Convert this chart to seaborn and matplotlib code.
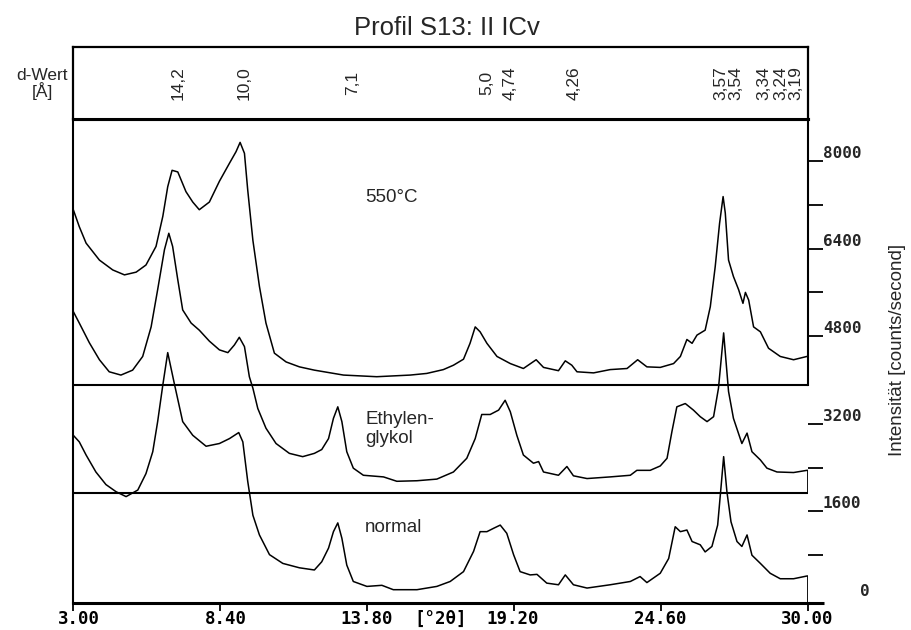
import matplotlib
matplotlib.use("Agg")
import matplotlib.pyplot as plt
import seaborn as sns

# ---------------- data ----------------
two_theta_550 = [3.00, 3.22, 3.47, 3.96, 4.45, 4.88, 5.31, 5.67, 6.04, 6.29, 6.47, 6.63, 6.84, 7.14,
                 7.39, 7.63, 8.00, 8.37, 8.74, 8.98, 9.13, 9.29, 9.41, 9.60, 9.84, 10.08, 10.39, 10.82,
                 11.31, 11.86, 12.93, 14.15, 15.38, 15.99, 16.60, 16.97, 17.34, 17.58, 17.77, 17.95,
                 18.20, 18.57, 19.06, 19.54, 20.01, 20.28, 20.83, 21.08, 21.32, 21.51, 22.12, 22.73,
                 23.35, 23.74, 24.08, 24.57, 25.06, 25.31, 25.55, 25.74, 25.92, 26.22, 26.41, 26.59,
                 26.75, 26.88, 26.96, 27.08, 27.26, 27.45, 27.61, 27.70, 27.82, 28.00, 28.25, 28.55,
                 28.98, 29.47, 29.96, 30.00]
counts_550 = [7110, 6800, 6500, 6190, 6010, 5920, 5970, 6100, 6440, 6990, 7530, 7830, 7800, 7440,
              7250, 7110, 7250, 7630, 7960, 8170, 8340, 8140, 7470, 6550, 5710, 5040, 4490, 4330,
              4240, 4180, 4090, 4060, 4090, 4120, 4190, 4270, 4380, 4670, 4970, 4880,
              4670, 4430, 4300, 4210, 4370, 4230, 4170, 4350, 4270, 4150, 4130, 4190,
              4210, 4370, 4240, 4230, 4300, 4430, 4740, 4670, 4820, 4910, 5340, 6070,
              6860, 7350, 7050, 6190, 5890, 5650, 5400, 5600, 5460, 4970, 4880, 4580,
              4430, 4370, 4430, 4430]

two_theta_eg = [3.00, 3.22, 3.59, 3.96, 4.32, 4.75, 5.18, 5.55, 5.86, 6.10, 6.35, 6.51, 6.65, 6.84,
                7.02, 7.33, 7.63, 8.00, 8.37, 8.68, 8.92, 9.10, 9.29, 9.47, 9.60, 9.78, 10.08, 10.45,
                10.94, 11.43, 11.86, 12.13, 12.38, 12.56, 12.72, 12.87, 13.05, 13.29, 13.66, 14.40,
                14.89, 15.63, 16.36, 16.97, 17.46, 17.77, 18.01, 18.32, 18.63, 18.87, 19.06, 19.30,
                19.54, 19.91, 20.10, 20.28, 20.83, 21.14, 21.38, 21.88, 22.73, 23.47, 23.71, 24.20,
                24.57, 24.82, 25.00, 25.18, 25.49, 25.79, 26.04, 26.29, 26.53, 26.71, 26.90, 27.08,
                27.26, 27.57, 27.76, 27.94, 28.25, 28.49, 28.86, 29.47, 29.96, 30.00]
counts_eg = [5250, 5040, 4680, 4370, 4150, 4090, 4180, 4430, 4970, 5650, 6380, 6680, 6440, 5830,
             5280, 5040, 4910, 4710, 4550, 4500, 4640, 4780, 4610, 4060, 3850, 3480, 3120, 2840,
             2660, 2600, 2660, 2730, 2930, 3300, 3510, 3240, 2690, 2390, 2260, 2230,
             2150, 2160, 2190, 2320, 2570, 2930, 3370, 3370, 3450, 3630, 3420, 2990,
             2630, 2480, 2510, 2320, 2260, 2420, 2250, 2200, 2230, 2260, 2350, 2350,
             2430, 2570, 3060, 3510, 3570, 3450, 3330, 3240, 3330, 3850, 4860, 3790,
             3300, 2840, 3030, 2690, 2540, 2390, 2320, 2310, 2350, 2350]

two_theta_normal = [3.00, 3.22, 3.47, 3.83, 4.20, 4.57, 4.94, 5.37, 5.67, 5.92, 6.10, 6.29, 6.47, 6.71,
                    7.02, 7.39, 7.88, 8.37, 8.74, 9.08, 9.23, 9.41, 9.60, 9.84, 10.21, 10.70, 11.31,
                    11.86, 12.13, 12.38, 12.56, 12.72, 12.87, 13.05, 13.29, 13.79, 14.34, 14.76, 15.63,
                    16.36, 16.85, 17.34, 17.71, 17.95, 18.20, 18.44, 18.69, 18.93, 19.18, 19.42, 19.79,
                    20.04, 20.40, 20.83, 21.08, 21.38, 21.88, 22.73, 23.47, 23.83, 24.08, 24.57, 24.88,
                    25.12, 25.31, 25.55, 25.74, 26.04, 26.22, 26.47, 26.68, 26.81, 26.90, 27.02, 27.17,
                    27.39, 27.57, 27.76, 27.94, 28.25, 28.61, 28.98, 29.47, 29.96, 30.00]
counts_normal = [2990, 2870, 2630, 2320, 2090, 1960, 1870, 1990, 2290, 2690, 3240, 3910, 4500, 3940,
                 3240, 2990, 2790, 2840, 2930, 3040, 2870, 2150, 1530, 1170, 810, 650, 570,
                 530, 680, 930, 1230, 1390, 1110, 620, 320, 230, 250, 170, 170,
                 230, 320, 500, 870, 1230, 1230, 1290, 1350, 1200, 810, 500, 440,
                 450, 290, 260, 440, 260, 200, 260, 320, 410, 300, 470, 740,
                 1320, 1230, 1260, 1050, 990, 860, 960, 1350, 2080, 2600, 1960, 1410,
                 1050, 960, 1170, 800, 650, 470, 370, 370, 420, 420]

x_ticks = [3.00, 8.40, 13.80, 19.20, 24.60, 30.00]
x_tick_labels = ["3.00", "8.40", "13.80", "19.20", "24.60", "30.00"]
y_ticks_labeled = [1600, 3200, 4800, 6400, 8000]
y_ticks_minor = [800, 2400, 5600, 7200]
y_zero_label = "0"

d_labels = ["14,2", "10,0", "7,1", "5,0", "4,74", "4,26", "3,57", "3,54", "3,34", "3,24", "3,19"]
d_label_2theta = [6.85, 9.28, 13.25, 18.21, 19.05, 21.41, 26.81, 27.36, 28.39, 29.02, 29.57]

sample_names = ["550°C", "Ethylen-", "glykol", "normal"]

# ---------------- layout ----------------
sns.set_style("white")
plt.rcParams["font.family"] = ["Liberation Sans", "DejaVu Sans"]

W, H = 912, 630
L, R = 73.3, 808.0
TOP, BOT, DTOP = 119.0, 603.0, 47.0
YLO, YHI = -73, 8767
SEP1, SEP2 = 3900, 1940
PX = 0.72  # points per pixel at dpi 100

fig = plt.figure(figsize=(W / 100, H / 100), dpi=100)
ax = fig.add_axes([L / W, (H - BOT) / H, (R - L) / W, (BOT - TOP) / H])
axd = fig.add_axes([L / W, (H - TOP) / H, (R - L) / W, (TOP - DTOP) / H])

for x, y in [(two_theta_550, counts_550), (two_theta_eg, counts_eg), (two_theta_normal, counts_normal)]:
    sns.lineplot(x=x, y=y, ax=ax, color="black", linewidth=1.1, sort=False,
                 estimator=None, legend=False)

ax.set_xlim(3, 30)
ax.set_ylim(YLO, YHI)
ax.set_xlabel("")
ax.set_ylabel("")

# panel separators and right-hand closing lines
ax.axhline(SEP1, color="black", lw=1.5)
ax.axhline(SEP2, color="black", lw=1.5)
ax.vlines(30, SEP2, counts_eg[-1], color="black", lw=1.3)
ax.vlines(30, YLO, counts_normal[-1], color="black", lw=1.3)

for s in ["left", "right", "top", "bottom"]:
    ax.spines[s].set_color("black")
ax.spines["left"].set_linewidth(1.5)
ax.spines["top"].set_linewidth(2.2)
ax.spines["bottom"].set_linewidth(2.2)
ax.spines["right"].set_linewidth(1.5)
ax.spines["right"].set_bounds(SEP1, YHI)
# bottom axis extends a little beyond 30
ax.plot([30, 30.6], [YLO, YLO], color="black", lw=2.2, clip_on=False, solid_capstyle="butt")

# x ticks (labels drawn by hand so the decimal point sits on the tick)
ax.set_xticks(x_ticks)
ax.tick_params(axis="x", which="major", direction="out", length=8 * PX, width=1.3,
               bottom=True, labelbottom=False, color="black")
mono = dict(family="DejaVu Sans Mono", weight="bold", fontsize=12.5, color="black")
for t, lab in zip(x_ticks, x_tick_labels):
    dx = 5.5 if lab.index(".") == 1 else -1.0
    ax.annotate(lab, xy=(t, 0), xycoords=("data", "axes fraction"),
                xytext=(dx * PX, -7 * PX), textcoords="offset points",
                ha="center", va="top", annotation_clip=False, **mono)
ax.annotate("[°2θ]", xy=(16.5, 0), xycoords=("data", "axes fraction"),
            xytext=(0, -7 * PX), textcoords="offset points",
            ha="center", va="top", annotation_clip=False, **mono)

# right y ticks
ax.yaxis.tick_right()
ax.set_yticks(y_ticks_labeled)
ax.set_yticklabels([str(v) for v in y_ticks_labeled])
ax.set_yticks(y_ticks_minor, minor=True)
ax.tick_params(axis="y", which="both", direction="out", length=15 * PX, width=1.3,
               right=True, left=False, pad=0, color="black")
ax.tick_params(axis="y", which="major", labelsize=11.5)
for lbl in ax.get_yticklabels():
    lbl.set_fontfamily("DejaVu Sans Mono")
    lbl.set_fontweight("bold")
    lbl.set_verticalalignment("bottom")
ax.annotate(y_zero_label, xy=(1, 0), xycoords=("axes fraction", "data"),
            xytext=(52 * PX, 0), textcoords="offset points", ha="left", va="bottom",
            annotation_clip=False, family="DejaVu Sans Mono", weight="bold", fontsize=11.5)

# sample labels
ax.text(13.72, 7260, sample_names[0], fontsize=13.5, ha="left", va="baseline")
ax.text(13.72, 3200, sample_names[1], fontsize=13.5, ha="left", va="baseline")
ax.text(13.72, 2850, sample_names[2], fontsize=13.5, ha="left", va="baseline")
ax.text(13.72, 1224, sample_names[3], fontsize=13.5, ha="left", va="baseline")

# d-value box
axd.set_xlim(3, 30)
axd.set_ylim(0, 1)
axd.set_xticks([])
axd.set_yticks([])
for s in ["left", "right", "top", "bottom"]:
    axd.spines[s].set_visible(True)
    axd.spines[s].set_color("black")
    axd.spines[s].set_linewidth(1.6)
axd.spines["bottom"].set_linewidth(2.2)
for pos, lab in zip(d_label_2theta, d_labels):
    axd.text(pos, 0.5, lab, rotation=90, ha="center", va="center", fontsize=12.5)

fig.text(42 / W, 1 - 84 / H, "d-Wert\n[Å]", ha="center", va="center", fontsize=12.5,
         linespacing=1.0)
fig.text(447 / W, 1 - 28 / H, "Profil S13: II ICv", ha="center", va="center", fontsize=18.5)
fig.text(898 / W, 1 - 350 / H, "Intensität [counts/second]", rotation=90,
         ha="center", va="center", fontsize=13.5)

fig.savefig("out.png", dpi=100)
